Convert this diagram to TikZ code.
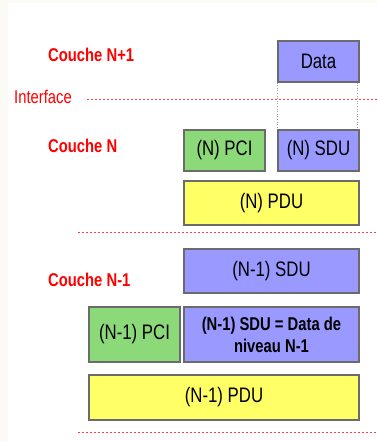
\documentclass[tikz,border=0pt]{standalone}
\usepackage{fontspec}
\setmainfont{Liberation Sans}[FakeStretch=0.8]
\usetikzlibrary{shadows}
\definecolor{sduviolet}{HTML}{9999FF}
\definecolor{pcivert}{HTML}{8CD97A}
\definecolor{pdujaune}{HTML}{FFFF66}
\definecolor{bord}{HTML}{6B6B6B}
\definecolor{fond}{HTML}{FBFAF4}
\tikzset{
  unit/.style={draw=bord, line width=1.2pt, inner sep=0pt, align=center,
    font=\fontsize{21}{23}\selectfont,
    drop shadow={shadow xshift=0.8pt, shadow yshift=-0.8pt, opacity=0.35}},
  sdubox/.style={unit, fill=sduviolet},
  pcibox/.style={unit, fill=pcivert},
  pdubox/.style={unit, fill=pdujaune},
  couche/.style={anchor=west, text=red, font=\bfseries\fontsize{18.5}{20}\selectfont, inner sep=0pt},
  limite/.style={draw=red!75, line width=1pt, dash pattern=on 2pt off 2pt},
  guide/.style={draw=gray!80, line width=0.6pt, dotted}
}
\begin{document}
\begin{tikzpicture}[x=1pt, y=-1pt]
  \useasboundingbox (0,0) rectangle (377,442);
  \fill[fond] (0,0) rectangle (377,442);
  \fill[white] (8,3) rectangle (377,442);

  % couche N+1
  \node[couche] (cN1) at (48,55) {Couche N+1};
  \node[sdubox, minimum width=81pt, minimum height=41pt] (data) at (318.5,61.5) {Data};
  \node[anchor=west, text=red, inner sep=0pt, font=\fontsize{18.5}{20}\selectfont] (iface) at (14,97) {Interface};
  \coordinate (ifA) at (87,99);
  \coordinate (ifB) at (377,99);
  \draw[limite] (ifA) -- (ifB);

  % couche N
  \node[couche] (cN) at (48,146) {Couche N};
  \node[pcibox, minimum width=81pt, minimum height=41pt] (npci) at (224.5,150.5) {(N) PCI};
  \node[sdubox, minimum width=81pt, minimum height=41pt] (nsdu) at (318.5,150.5) {(N) SDU};
  \node[pdubox, minimum width=175pt, minimum height=44pt] (npdu) at (271.5,203) {(N) PDU};
  \draw[guide] (data.south west) -- (nsdu.north west);
  \draw[guide] ([xshift=-2pt]data.south east) -- ([xshift=-2pt]nsdu.north east);
  \coordinate (sepA) at (78,232);
  \coordinate (sepB) at (377,232);
  \draw[limite] (sepA) -- (sepB);

  % couche N-1
  \node[couche] (cM) at (48,280) {Couche N-1};
  \node[sdubox, minimum width=175pt, minimum height=44pt] (msdu) at (271.5,271) {(N-1) SDU};
  \node[pcibox, minimum width=91pt, minimum height=55pt] (mpci) at (134.5,334.5) {(N-1) PCI};
  \node[sdubox, minimum width=175pt, minimum height=55pt,
    font=\bfseries\fontsize{18.5}{22}\selectfont] (mdata) at (271.5,334.5) {(N-1) SDU = Data de\\niveau N-1};
  \node[pdubox, minimum width=270pt, minimum height=45pt] (mpdu) at (224,397.5) {(N-1) PDU};
  \coordinate (basA) at (78,432);
  \coordinate (basB) at (377,432);
  \draw[limite] (basA) -- (basB);
\end{tikzpicture}
\end{document}
